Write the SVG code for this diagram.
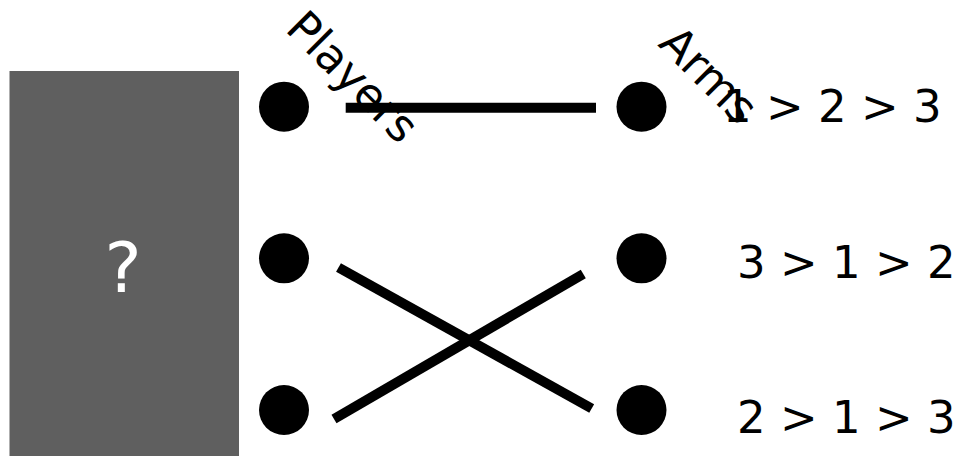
<svg xmlns="http://www.w3.org/2000/svg" width="961" height="456" viewBox="0 0 961 456">
<style>
.t{font-family:"DejaVu Sans",sans-serif;font-size:45px;fill:#000}
.e{stroke:#000;stroke-width:10;fill:none}
.n{fill:#000}
</style>
<rect width="961" height="456" fill="#fff"/>
<g id="box">
<rect x="9.5" y="71" width="229.5" height="390" fill="#5f5f5f"/>
<text x="123" y="291.7" text-anchor="middle" style="font-family:'DejaVu Sans',sans-serif;font-size:70px;fill:#fff">?</text>
</g>
<g id="connectors">
<line class="e" x1="345.7" y1="107.7" x2="596" y2="107.7"/>
<line class="e" x1="338.5" y1="267.5" x2="591.7" y2="408.5"/>
<line class="e" x1="334" y1="419" x2="583.3" y2="274"/>
</g>
<g id="p1"><circle class="n" cx="284" cy="106.7" r="25"/></g>
<g id="p2"><circle class="n" cx="284" cy="258.3" r="25"/></g>
<g id="p3"><circle class="n" cx="284" cy="410" r="25"/></g>
<g id="a1"><circle class="n" cx="641.5" cy="106.7" r="25"/></g>
<g id="a2"><circle class="n" cx="641.5" cy="258.3" r="25"/></g>
<g id="a3"><circle class="n" cx="641.5" cy="410" r="25"/></g>
<g id="labels">
<text class="t" transform="translate(284,30) rotate(45)">Players</text>
<text class="t" transform="translate(657,45) rotate(45)">Arms</text>
<text class="t" x="723" y="121.7">1 &gt; 2 &gt; 3</text>
<text class="t" x="737" y="278.3">3 &gt; 1 &gt; 2</text>
<text class="t" x="737" y="433.3">2 &gt; 1 &gt; 3</text>
</g>
</svg>
